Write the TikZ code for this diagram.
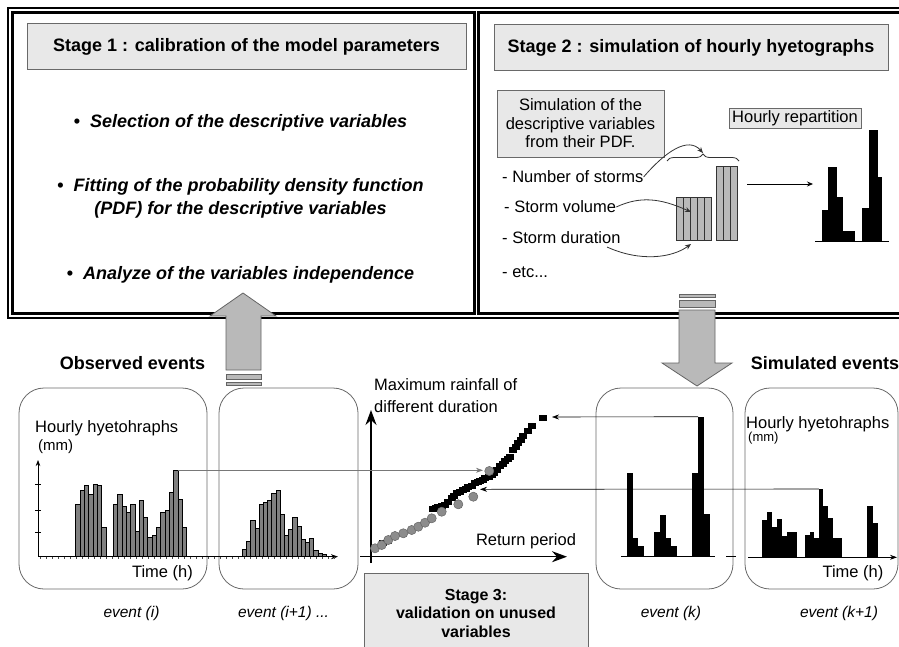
\documentclass[tikz,border=0pt]{standalone}
\usepackage{fontspec}
\setmainfont{Liberation Sans}
\usepackage{tikz}
\usetikzlibrary{arrows,arrows.meta,shapes,positioning,decorations.pathreplacing}
\definecolor{boxfill}{RGB}{232,232,232}
\definecolor{boxedge}{RGB}{105,105,105}
\definecolor{bargray}{RGB}{128,128,128}
\definecolor{arrowfill}{RGB}{185,185,185}
\definecolor{arrowedge}{RGB}{100,100,100}
\definecolor{dotfill}{RGB}{140,140,140}
\definecolor{linegray}{RGB}{120,120,120}
\newcommand{\hytitle}{\fontsize{18}{23}\selectfont\bfseries}
\newcommand{\hyitem}{\fontsize{18}{23}\selectfont\bfseries\itshape}
\newcommand{\hylbl}{\fontsize{16.5}{18.5}\selectfont}
\newcommand{\hyevent}{\fontsize{15.5}{18}\selectfont\itshape}
\newcommand{\hystage}{\fontsize{16}{18.5}\selectfont\bfseries}
\newcommand{\hybullet}{{\upshape\textbullet}\ \ }
\tikzstyle{titlebox} = [draw=boxedge, fill=boxfill, line width=1pt, minimum height=46pt, font=\hytitle]
\tikzstyle{itemtext} = [font=\hyitem, align=center]
\tikzstyle{lbl} = [font=\hylbl, inner sep=0pt]
\tikzstyle{headtext} = [font=\hytitle, inner sep=0pt]
\tikzstyle{eventbox} = [draw=boxedge, line width=0.8pt, rounded corners=25pt]
\tikzstyle{eventlabel} = [font=\hyevent, inner sep=0pt]
\tikzstyle{obsbar} = [draw=black, fill=bargray, line width=0.5pt]
\tikzstyle{simbar} = [draw=black!80, fill=arrowfill, line width=0.7pt]
\tikzstyle{bigarrow} = [draw=arrowedge, fill=arrowfill, line width=0.8pt]
\tikzstyle{curvearrow} = [thick, draw=black!80, -{Stealth[length=6pt,width=5pt]}]
\tikzstyle{axisarrow} = [line width=1.3pt, -{Stealth[length=15pt,width=11pt]}]
\tikzstyle{peakline} = [line width=0.6pt, -{Stealth[length=7pt,width=5pt]}]

\begin{document}
\begin{tikzpicture}[x=1pt,y=-1pt]
\useasboundingbox (0,0) rectangle (899,646);
\clip (0,0) rectangle (899,646);

% Frames
\draw[line width=1.5pt] (8,8) rectangle (910,318);
\draw[line width=3pt] (12.5,12.5) rectangle (474.5,313.5);
\draw[line width=3pt] (478.5,12.5) rectangle (910,313.5);

% Stage 1
\node[titlebox, minimum width=439pt] (stage1) at (246.5,46.5) {Stage 1 : calibration of the model parameters};
\node[itemtext] (select) at (240.5,123) {\hybullet Selection of the descriptive variables};
\node[itemtext] (fitting) at (240.5,198.5) {\hybullet Fitting of the probability density function\\(PDF) for the descriptive variables};
\node[itemtext] (analyze) at (240.5,275) {\hybullet Analyze of the variables independence};

% Stage 2
\node[titlebox, minimum width=394pt] (stage2) at (691,47.5) {Stage 2 : simulation of hourly hyetographs};
\node[draw=boxedge, fill=boxfill, line width=0.8pt, minimum width=167pt, minimum height=67pt, align=center, font=\hylbl] (simvar) at (580.5,123.5) {Simulation of the\\descriptive variables\\from their PDF.};
\node[draw=boxedge, fill=boxfill, line width=0.8pt, minimum width=132pt, minimum height=20pt, inner sep=1pt, font=\hylbl] (hrep) at (795,118) {Hourly repartition};
\node[lbl, anchor=west] (nstorm) at (502,177) {- Number of storms};
\node[lbl, anchor=west] (svol) at (504,207) {- Storm volume};
\node[lbl, anchor=west] (sdur) at (502,238) {- Storm duration};
\node[lbl, anchor=west] (etc) at (502,272) {- etc...};

% Simulated variables
\draw[simbar] (676,197) rectangle (711,240);
\foreach \x in {683,690,697,704} \draw[black!80, line width=0.7pt] (\x,197) -- (\x,240);
\draw[simbar] (716,166) rectangle (737,240);
\foreach \x in {723,730} \draw[black!80, line width=0.7pt] (\x,166) -- (\x,240);
\draw[black!80, line width=0.8pt, decorate, decoration={brace, amplitude=7pt}] (667,161) -- (739,161);
\coordinate (bracetip) at (703,153);
\coordinate (volpt) at (691,212);
\coordinate (durpt) at (691,244);
\coordinate (durstart) at (607,247);
\draw[curvearrow] (nstorm.east) .. controls (665,152) and (688,136) .. (bracetip);
\draw[curvearrow] (svol.east) .. controls (640,196) and (660,198) .. (volpt);
\draw[curvearrow] (durstart) .. controls (640,262) and (672,258) .. (durpt);

% Hourly repartition
\coordinate (repA) at (747,184);
\coordinate (repB) at (813,184);
\draw[line width=0.8pt, -{Stealth[length=6pt,width=5pt]}] (repA) -- (repB);
\draw[line width=1pt] (815,241) -- (889,241);
\fill (821.7,241) rectangle (828.3,210);
\fill (828.3,241) rectangle (836.7,167);
\fill (836.7,241) rectangle (843.3,197);
\fill (843.3,241) rectangle (855,231);
\fill (862.3,241) rectangle (869,208);
\fill (869,241) rectangle (877.7,130);
\fill (877.7,241) rectangle (882.3,177);

% Events
\node[headtext] (obs) at (132.5,363) {Observed events};
\node[headtext] (simev) at (825,363) {Simulated events};
\node[eventbox, minimum width=188pt, minimum height=201pt] (evi) at (113,488.5) {};
\node[eventbox, minimum width=139pt, minimum height=201pt] (evinext) at (288.5,488.5) {};
\node[eventbox, minimum width=137pt, minimum height=201pt] (evk) at (664.5,488.5) {};
\node[eventbox, minimum width=153pt, minimum height=201pt] (evknext) at (821.5,488.5) {};
\node[eventlabel] (lbli) at (131.5,613) {event (i)};
\node[eventlabel] (lblinext) at (283.5,613) {event (i+1) ...};
\node[eventlabel] (lblk) at (671,613) {event (k)};
\node[eventlabel] (lblknext) at (839,613) {event (k+1)};

% Observed hyetographs
\node[lbl, anchor=west] (hyeti) at (35,428) {Hourly hyetohraphs};
\node[lbl, anchor=west, font=\fontsize{15}{18}\selectfont] (mmi) at (38,447) {(mm)};
\node[lbl] (timei) at (162.5,573) {Time (h)};
\draw[line width=0.7pt, -{Stealth[length=6pt,width=4.5pt]}] (38,556.7) -- (38,460);
\foreach \t in {484.3,510,532.7} \draw[line width=0.6pt] (35,\t) -- (41,\t);
\draw[line width=0.7pt, -{Stealth[length=7pt,width=5pt]}] (38,556.7) -- (338,556.7);
\foreach \t in {40,46,...,334} \draw[line width=0.5pt, black!70] (\t,556.7) -- (\t,559);
\foreach \h [count=\i from 0] in {52.7,66.7,71.7,62.7,72.7,71.7,29.3}
  \draw[obsbar] (75.7+\i*4.3,556.7) rectangle ++(4.3,-\h);
\foreach \h [count=\i from 0] in {52.7,62.3,50.7,44,52.7,25,56.7,39.3,19.3,21.3,29.3,44.3,46.7,64,86.7,57.3,29.3}
  \draw[obsbar] (113.3+\i*4.3,556.7) rectangle ++(4.3,-\h);
\foreach \h [count=\i from 0] in {7,15,36.7,28.7,52.7,54.3,56.7,63.7,66,42.7,21,27.7,39.3,30,17.7,14.3,18.7,6,3.7,2.7}
  \draw[obsbar] (242.3+\i*4.2,556.7) rectangle ++(4.2,-\h);
\coordinate (peaki) at (177.8,470.3);

% Simulated hyetographs
\node[lbl, anchor=west] (hyetk) at (746,424) {Hourly hyetohraphs};
\node[lbl, anchor=west, font=\fontsize{13}{15}\selectfont] (mmk) at (748,438) {(mm)};
\node[lbl] (timek) at (853,573) {Time (h)};
\draw[line width=1pt] (621,556) -- (715,556);
\draw[line width=1pt] (726,556.5) -- (736,556.5);
\draw[line width=0.8pt, -{Stealth[length=7pt,width=5pt]}] (748,557.3) -- (897,557.3);
\foreach \h [count=\i from 0] in {83.3,17.7,10}
  \fill (626.7+\i*5.8,556) rectangle ++(5.8,-\h);
\foreach \h [count=\i from 0] in {23.7,41,17.7,10}
  \fill (654+\i*5.8,556) rectangle ++(5.8,-\h);
\foreach \h [count=\i from 0] in {83.3,139.3,41.7}
  \fill (692.3+\i*5.8,556) rectangle ++(5.8,-\h);
\foreach \h [count=\i from 0] in {37.3,45.7,30.7,38.3,21.3,25.7,25.7}
  \fill (761.7+\i*5,557.3) rectangle ++(5,-\h);
\foreach \h [count=\i from 0] in {22,25.7,19,68.3,51.3,39,19,19}
  \fill (805+\i*4.6,557.3) rectangle ++(4.6,-\h);
\foreach \h [count=\i from 0] in {51.3,34.7}
  \fill (866.7+\i*5.8,557.3) rectangle ++(5.8,-\h);
\coordinate (peakk) at (698.1,416.7);
\coordinate (peakknext) at (818.8,489);

% Return period plot
\node[lbl, anchor=west, align=left, font=\fontsize{16.5}{22}\selectfont] (maxrain) at (374,396) {Maximum rainfall of\\different duration};
\node[lbl] (retper) at (526,541) {Return period};
\draw[axisarrow] (371,563) -- (371,410);
\draw[axisarrow] (360,556.7) -- (567,556.7);
\foreach \p in {(383,543),(388,540.5),(433.3,509.3),(436,508),(438.3,506.7),(441.5,506),(445,505),(448,502),(451.7,498.3),(454,496),(456.7,493.3),(460,491.5),(463.3,490),(466,488.5),(468.3,487.3),(471.5,485.5),(475,483.3),(477.5,482),(480,480.7),(482.5,479.5),(485,478.3),(488.5,476.5),(491.7,475),(494,472.5),(496.7,470),(500,466),(502.5,463.5),(505,460.7),(507.5,458.5),(510,456.7),(513.3,450),(515.8,446.5),(518.3,443.3),(520.8,439.5),(523.3,436),(527.5,431),(531.7,426),(542.7,418.3)}
  \fill \p ++(-4,-3) rectangle ++(8,6);
\foreach \p in {(375,548.3),(381.7,545),(388.3,540),(395,536),(403.3,533.3),(411.7,530),(418.3,526.7),(425,522.7),(431.7,518.3),(441.7,511.7),(458.3,504.3),(473.3,496.7),(489.3,471)}
  \draw[draw=black!60, fill=dotfill, line width=0.5pt] \p circle (4.6);
\coordinate (pti) at (483,470.3);
\coordinate (ptk) at (552,417);
\coordinate (ptknext) at (480,489.3);
\draw[peakline, draw=linegray, fill=linegray] (peaki) -- (pti);
\draw[peakline] (peakk) -- (ptk);
\draw[peakline] (peakknext) -- (ptknext);

% Stage 3
\node[draw=boxedge, fill=boxfill, line width=0.8pt, minimum width=224pt, minimum height=80pt, anchor=north, align=center, font=\hystage] (stage3) at (476,573) {Stage 3:\\validation on unused\\variables};

% Big arrows
\draw[bigarrow] (226,370) -- (226,316) -- (210,316) -- (243,293) -- (276,316) -- (261,316) -- (261,370) -- cycle;
\draw[bigarrow] (226,374) rectangle (261,379);
\draw[bigarrow] (226,382) rectangle (261,385);
\draw[bigarrow] (679,294) rectangle (715,297);
\draw[bigarrow] (679,300) rectangle (715,307);
\draw[bigarrow] (679,310) -- (679,363) -- (662,363) -- (697,386) -- (732,363) -- (715,363) -- (715,310) -- cycle;
\end{tikzpicture}
\end{document}
